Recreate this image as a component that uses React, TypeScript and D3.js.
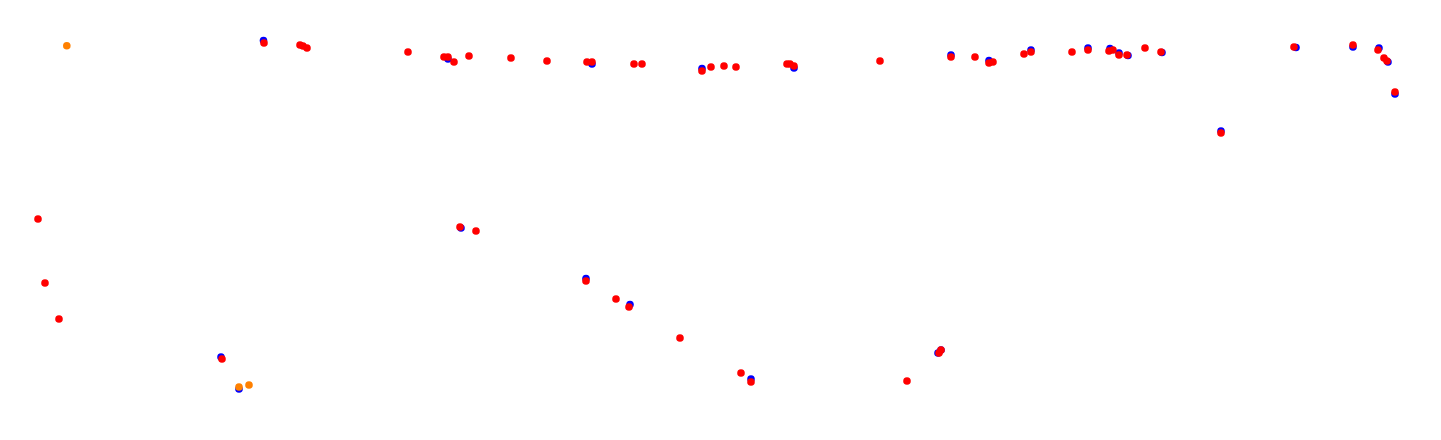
import React from "react";
import * as d3 from "d3";

// Data values (x, y) where y grows upward; domain matches chart area
const blueSeries: [number, number][] = [
  [263.5, 399.5], [448, 381], [592, 376], [702, 371.5], [794, 372], [951, 385],
  [989, 379.5], [1031, 390], [1088, 392], [1110, 391.5], [1119, 387], [1128, 384.5],
  [1162, 387.5], [1296, 392.5], [1353, 393], [1379, 392], [1388, 378], [1395, 346],
  [1221, 309], [221, 83], [239, 51], [461, 212], [586, 161.5], [630, 135.5],
  [751, 61], [941, 90], [938, 87],
];

const redSeries: [number, number][] = [
  [38, 221], [45, 157], [59, 121], [222, 81], [264, 397], [300, 395], [303, 394],
  [307, 392], [408, 388], [444, 383], [448, 383], [454, 378], [469, 384], [460, 213],
  [476, 209], [511, 382], [547, 379], [587, 378], [592, 378], [586, 159], [616, 141],
  [629, 133], [634, 376], [642, 376], [680, 102], [702, 369], [711, 373], [724, 374],
  [736, 373], [741, 67], [751, 58], [787, 376], [790, 376], [794, 374], [880, 379],
  [907, 59], [939, 87], [941, 90], [951, 383], [975, 383], [989, 377], [993, 378],
  [1024, 386], [1031, 388], [1072, 388], [1088, 390], [1109, 389], [1113, 390],
  [1119, 385], [1127, 385], [1145, 392], [1161, 388], [1221, 307], [1294, 393],
  [1353, 395], [1378, 390], [1384, 382], [1387, 379], [1395, 348],
];

const orangeSeries: [number, number][] = [
  [66.8, 394.3], [239, 53], [249, 55],
];

const W = 1441;
const H = 440;

export default function App() {
  const x = d3.scaleLinear().domain([0, W]).range([0, W]);
  const y = d3.scaleLinear().domain([0, H]).range([H, 0]);
  const r = 3.8;
  const series: { data: [number, number][]; color: string }[] = [
    { data: blueSeries, color: "#0000ff" },
    { data: redSeries, color: "#ff0000" },
    { data: orangeSeries, color: "#ff8000" },
  ];
  return (
    <svg
      width={W}
      height={H}
      style={{ position: "absolute", left: 0, top: 0, display: "block", background: "#fff" }}
    >
      {series.map((s, si) => (
        <g key={si}>
          {s.data.map((d, i) => (
            <circle key={i} cx={x(d[0])} cy={y(d[1])} r={r} fill={s.color} />
          ))}
        </g>
      ))}
    </svg>
  );
}
